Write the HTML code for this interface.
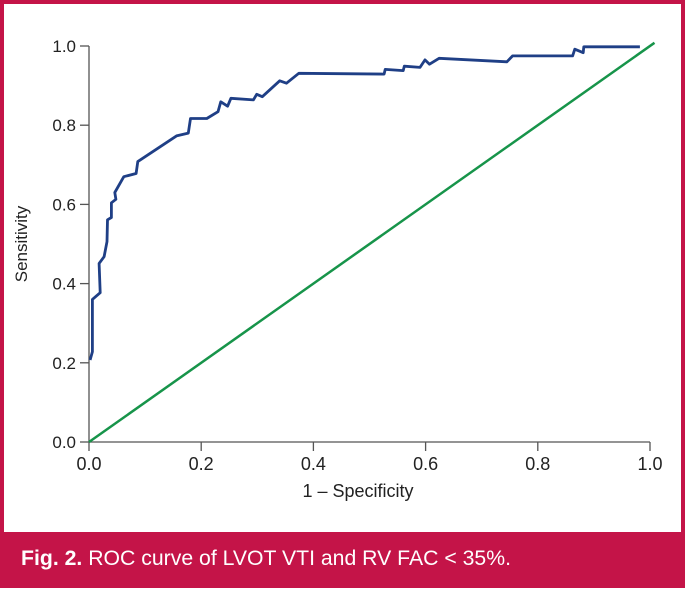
<!DOCTYPE html>
<html><head><meta charset="utf-8"><style>
html,body{margin:0;padding:0;background:#fff;}
#frame{position:absolute;left:0;top:0;width:685px;height:588px;}
svg text{font-family:"Liberation Sans",Arial,sans-serif;}
</style></head><body>
<div id="frame">
<svg id="chart" width="685" height="588">
  <rect x="2" y="2" width="681" height="584" fill="#fff" stroke="#c41448" stroke-width="4"/>
  <rect x="0" y="532" width="685" height="56" fill="#c41448"/>
  <text x="21" y="565" font-size="21" fill="#fff" textLength="490" lengthAdjust="spacingAndGlyphs"><tspan font-weight="bold">Fig. 2.</tspan> ROC curve of LVOT VTI and RV FAC &lt; 35%.</text>
  <g id="axes"></g>
  <g id="marks"></g>
  <text x="358" y="497" font-size="18" text-anchor="middle" fill="#222">1 – Specificity</text>
  <text transform="translate(27,244) rotate(-90)" font-size="17" text-anchor="middle" fill="#222">Sensitivity</text>
</svg>
</div>
<script>
const fpr = [0.002,0.006,0.006,0.02,0.018,0.027,0.032,0.033,0.04,0.04,0.048,0.046,0.062,0.084,0.087,0.156,0.177,0.181,0.21,0.23,0.235,0.247,0.253,0.293,0.299,0.309,0.34,0.352,0.374,0.526,0.528,0.56,0.562,0.59,0.599,0.607,0.624,0.745,0.755,0.862,0.866,0.881,0.882,0.982];
const tpr = [0.207,0.228,0.36,0.377,0.451,0.468,0.506,0.561,0.567,0.604,0.613,0.63,0.67,0.678,0.708,0.773,0.78,0.817,0.817,0.834,0.859,0.848,0.868,0.864,0.878,0.872,0.912,0.906,0.931,0.929,0.941,0.938,0.949,0.946,0.965,0.954,0.969,0.96,0.975,0.975,0.992,0.983,0.998,0.998];
const xTicks = [0,0.2,0.4,0.6,0.8,1.0];
const yTicks = [0,0.2,0.4,0.6,0.8,1.0];
const refLine = [0,1.008];
const NS='http://www.w3.org/2000/svg';
const X0=89,X1=650,Y0=442,Y1=46;
function sx(v){return X0+(X1-X0)*v;}
function sy(v){return Y0-(Y0-Y1)*v;}
function mk(t,a,p){const e=document.createElementNS(NS,t);for(const k in a)e.setAttribute(k,a[k]);p.appendChild(e);return e;}
const ax=document.getElementById('axes'), mg=document.getElementById('marks');
let e=mk('line',{x1:X0,y1:Y1,x2:X0,y2:Y0,stroke:'#555','stroke-width':1.3},ax);


e=mk('line',{x1:X0,y1:Y0,x2:X1,y2:Y0,stroke:'#555','stroke-width':1.3},ax);


xTicks.forEach(v=>{
  let t=mk('line',{x1:sx(v),y1:Y0,x2:sx(v),y2:Y0+9,stroke:'#555','stroke-width':1.3},ax);
  
  
  let l=mk('text',{x:sx(v),y:Y0+28,'font-size':18,'text-anchor':'middle',fill:'#222'},ax);
  l.textContent=v.toFixed(1);
  
  
});
yTicks.forEach(v=>{
  let t=mk('line',{x1:X0-9,y1:sy(v),x2:X0,y2:sy(v),stroke:'#555','stroke-width':1.3},ax);
  
  
  let l=mk('text',{x:X0-13,y:sy(v)+6,'font-size':17,'text-anchor':'end',fill:'#222'},ax);
  l.textContent=v.toFixed(1);
  
  
});
let d=mk('line',{x1:sx(refLine[0]),y1:sy(refLine[0]),x2:sx(refLine[1]),y2:sy(refLine[1]),stroke:'#17944a','stroke-width':2.5},mg);


let pts=fpr.map((f,i)=>sx(f).toFixed(1)+','+sy(tpr[i]).toFixed(1)).join(' ');
let c=mk('polyline',{points:pts,fill:'none',stroke:'#1f3f86','stroke-width':2.8,'stroke-linejoin':'round'},mg);


</script>
</body></html>
